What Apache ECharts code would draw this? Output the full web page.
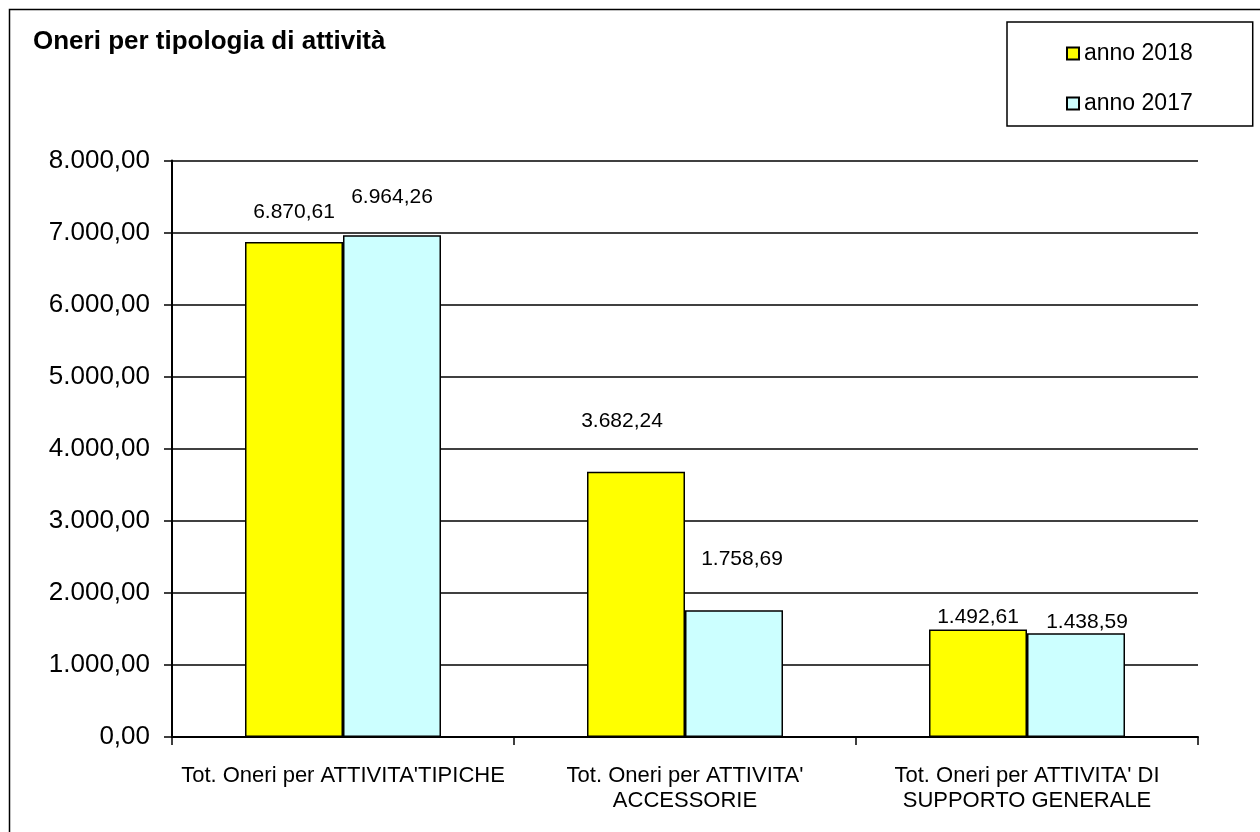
<!DOCTYPE html>
<html>
<head>
<meta charset="utf-8">
<script src="https://cdn.jsdelivr.net/npm/echarts@6/dist/echarts.min.js"></script>
<style>html,body{margin:0;padding:0;background:#fff}#c{width:1260px;height:832px}</style>
</head>
<body>
<div id="c"></div>
<script>
const categories = [
  "Tot. Oneri per ATTIVITA'TIPICHE",
  "Tot. Oneri per ATTIVITA'\nACCESSORIE",
  "Tot. Oneri per ATTIVITA' DI\nSUPPORTO GENERALE"
];
const seriesNames = ["anno 2018", "anno 2017"];
const values2018 = [6870.61, 3682.24, 1492.61];
const values2017 = [6964.26, 1758.69, 1438.59];
const yTicks = { min: 0, max: 8000, interval: 1000 };
const titleText = "Oneri per tipologia di attività";

// label placement styles (not data)
const labelOffsets2018 = [[0, -19], [-14, -40], [0, -2]];
const labelOffsets2017 = [[0, -27], [8, -41], [11, -1]];

function fmt(v) {
  const parts = Number(v).toFixed(2).split('.');
  return parts[0].replace(/\B(?=(\d{3})+(?!\d))/g, '.') + ',' + parts[1];
}

function buildData(vals, offs) {
  return vals.map((v, i) => ({ value: v, label: { offset: offs[i] } }));
}

const chart = echarts.init(document.getElementById('c'), null, { renderer: 'canvas' });
const FONT = "'Liberation Sans', Arial, Helvetica, sans-serif";
const labelStyle = {
  show: true, position: 'top', distance: 0, color: '#000',
  fontFamily: FONT, fontSize: 21, formatter: p => fmt(p.value)
};
chart.setOption({
  animation: false,
  backgroundColor: '#fff',
  title: {
    text: titleText, left: 33, top: 29, padding: 0,
    textStyle: { fontFamily: FONT, fontSize: 26, fontWeight: 'bold', color: '#000' }
  },
  legend: {
    orient: 'vertical', left: 1007, top: 22,
    padding: [20, 60, 11, 59], itemGap: 27,
    itemWidth: 12, itemHeight: 12, icon: 'rect',
    borderColor: '#000', borderWidth: 1.5,
    textStyle: { fontFamily: FONT, fontSize: 23, color: '#000' },
    data: seriesNames
  },
  graphic: [{
    type: 'rect', left: 7, top: 7, silent: true,
    shape: { width: 1300, height: 900 },
    style: { fill: 'none', stroke: '#000', lineWidth: 1.5 }
  }],
  grid: { left: 172, right: 62, top: 160.5, bottom: 95, containLabel: false },
  xAxis: {
    type: 'category', data: categories,
    axisLine: { lineStyle: { color: '#000', width: 2 } },
    axisTick: { show: true, length: 8, lineStyle: { color: '#000', width: 1.5 } },
    axisLabel: {
      interval: 0, margin: 26, color: '#000', lineHeight: 25,
      fontFamily: FONT, fontSize: 22
    }
  },
  yAxis: {
    type: 'value', min: yTicks.min, max: yTicks.max, interval: yTicks.interval,
    axisLine: { show: true, lineStyle: { color: '#000', width: 2 } },
    axisTick: { show: true, length: 8, lineStyle: { color: '#000', width: 1.5 } },
    splitLine: { show: true, lineStyle: { color: '#000', width: 1.5 } },
    axisLabel: { margin: 22, color: '#000', fontFamily: FONT, fontSize: 26, formatter: v => fmt(v) }
  },
  series: [
    {
      name: seriesNames[0], type: 'bar', barWidth: 98, barGap: '0%',
      itemStyle: { color: '#FFFF00', borderColor: '#000', borderWidth: 1.5 },
      label: labelStyle,
      data: buildData(values2018, labelOffsets2018)
    },
    {
      name: seriesNames[1], type: 'bar', barWidth: 98, barGap: '0%',
      itemStyle: { color: '#CCFFFF', borderColor: '#000', borderWidth: 1.5 },
      label: labelStyle,
      data: buildData(values2017, labelOffsets2017)
    }
  ]
});
</script>
</body>
</html>
